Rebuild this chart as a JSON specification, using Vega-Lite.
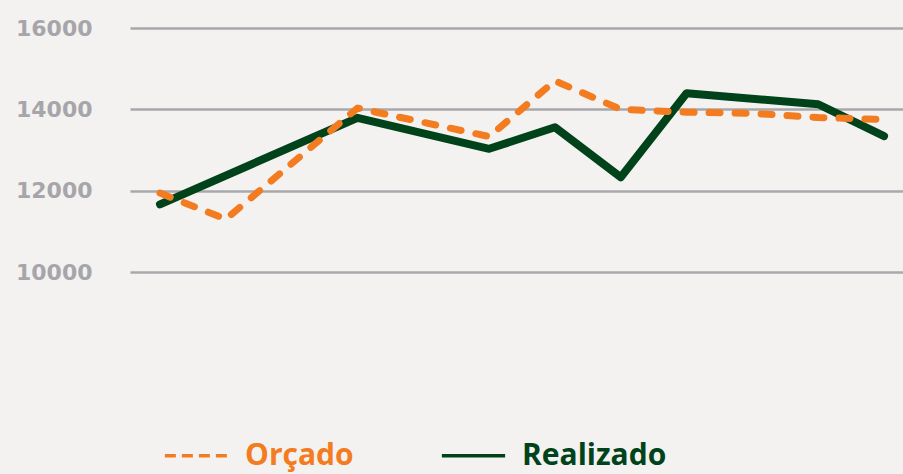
{
  "$schema": "https://vega.github.io/schema/vega-lite/v6.json",
  "autosize": {"type": "none"},
  "width": 773,
  "height": 244,
  "padding": {"left": 130, "top": 28, "right": 0, "bottom": 202},
  "background": "#f3f2f1",
  "config": {"view": {"stroke": null}},
  "data": {
    "values": [
      {"mes": 1, "serie": "Orçado", "valor": 11940},
      {"mes": 2, "serie": "Orçado", "valor": 11300},
      {"mes": 4, "serie": "Orçado", "valor": 14030},
      {"mes": 6, "serie": "Orçado", "valor": 13330},
      {"mes": 7, "serie": "Orçado", "valor": 14700},
      {"mes": 8, "serie": "Orçado", "valor": 14000},
      {"mes": 9, "serie": "Orçado", "valor": 13930},
      {"mes": 10, "serie": "Orçado", "valor": 13900},
      {"mes": 11, "serie": "Orçado", "valor": 13800},
      {"mes": 12, "serie": "Orçado", "valor": 13750},
      {"mes": 1, "serie": "Realizado", "valor": 11665},
      {"mes": 4, "serie": "Realizado", "valor": 13790},
      {"mes": 6, "serie": "Realizado", "valor": 13030},
      {"mes": 7, "serie": "Realizado", "valor": 13560},
      {"mes": 8, "serie": "Realizado", "valor": 12330},
      {"mes": 9, "serie": "Realizado", "valor": 14395},
      {"mes": 11, "serie": "Realizado", "valor": 14125},
      {"mes": 12, "serie": "Realizado", "valor": 13340}
    ]
  },
  "encoding": {
    "x": {
      "field": "mes",
      "type": "quantitative",
      "scale": {"domain": [0.544, 12.288], "nice": false, "zero": false},
      "axis": null
    },
    "y": {
      "field": "valor",
      "type": "quantitative",
      "scale": {"domain": [10000, 16000], "nice": false, "zero": false},
      "axis": {
        "title": null,
        "values": [10000, 12000, 14000, 16000],
        "format": "d",
        "domain": false,
        "ticks": false,
        "grid": true,
        "gridColor": "#a8a8ac",
        "gridWidth": 2.5,
        "labelFont": "DejaVu Sans",
        "labelFontWeight": "bold",
        "labelFontSize": 22,
        "labelColor": "#a6a6aa",
        "labelPadding": 38
      }
    },
    "color": {
      "field": "serie",
      "type": "nominal",
      "scale": {"domain": ["Orçado", "Realizado"], "range": ["#f47c20", "#00421a"]},
      "legend": {
        "title": null,
        "orient": "none",
        "direction": "horizontal",
        "legendX": 33,
        "legendY": 394,
        "padding": 0,
        "symbolType": "stroke",
        "symbolSize": 4000,
        "symbolStrokeWidth": 3.5,
        "labelFont": "Open Sans",
        "labelFontWeight": "bold",
        "labelFontSize": 30,
        "labelOffset": 15,
        "labelLimit": 400,
        "columnPadding": 80,
        "encode": {
          "symbols": {"update": {"strokeDash": {"signal": "datum.value === 'Orçado' ? [11, 6] : [1, 0]"}}},
          "labels": {"update": {"fill": {"signal": "datum.value === 'Orçado' ? '#f47c20' : '#00421a'"}}}
        }
      }
    }
  },
  "layer": [
    {
      "transform": [{"filter": "datum.serie === 'Realizado'"}],
      "mark": {"type": "line", "strokeWidth": 8, "strokeCap": "round", "strokeJoin": "round"}
    },
    {
      "transform": [{"filter": "datum.serie === 'Orçado'"}],
      "mark": {"type": "line", "strokeWidth": 7, "strokeCap": "round", "strokeJoin": "round", "strokeDash": [11, 15]}
    }
  ]
}
